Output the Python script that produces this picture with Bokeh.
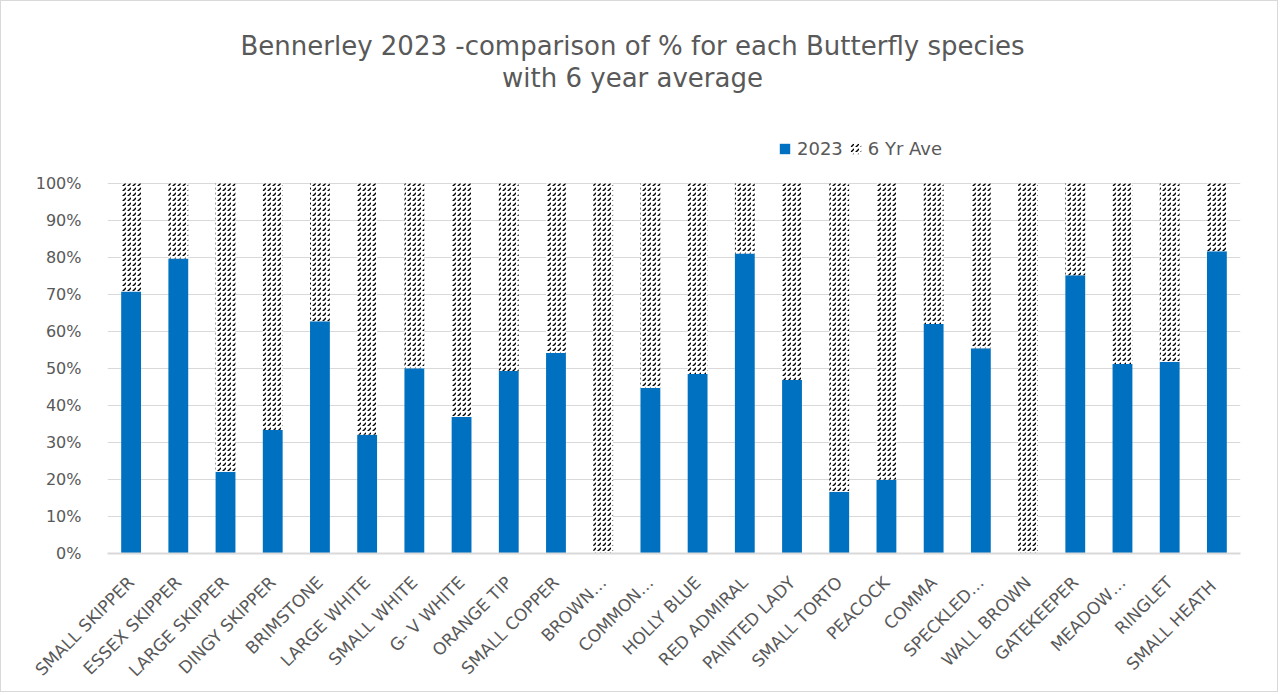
from bokeh.plotting import figure
from bokeh.models import ColumnDataSource, Legend, LegendItem, FixedTicker, Label
from bokeh.embed import file_html
from bokeh.resources import INLINE
import math

species = ["SMALL SKIPPER", "ESSEX SKIPPER", "LARGE SKIPPER", "DINGY SKIPPER",
           "BRIMSTONE", "LARGE WHITE", "SMALL WHITE", "G- V WHITE", "ORANGE TIP",
           "SMALL COPPER", "BROWN…", "COMMON…", "HOLLY BLUE", "RED ADMIRAL",
           "PAINTED LADY", "SMALL TORTO", "PEACOCK", "COMMA", "SPECKLED…",
           "WALL BROWN", "GATEKEEPER", "MEADOW…", "RINGLET", "SMALL  HEATH"]
pct_2023 = [70.8, 79.7, 22.1, 33.4, 62.8, 32.1, 50.1, 36.9, 49.3, 54.2, 0.0, 44.7,
            48.5, 81.1, 46.9, 16.7, 19.9, 62.0, 55.5, 0.0, 75.2, 51.2, 51.8, 81.7]
pct_6yr = [29.2, 20.3, 77.9, 66.6, 37.2, 67.9, 49.9, 63.1, 50.7, 45.8, 100.0, 55.3,
           51.5, 18.9, 53.1, 83.3, 80.1, 38.0, 44.5, 100.0, 24.8, 48.8, 48.2, 18.3]
y_ticks = [0, 10, 20, 30, 40, 50, 60, 70, 80, 90, 100]
y_tick_labels = {t: f"{t}%" for t in y_ticks}
title_lines = ["Bennerley 2023 -comparison of % for each Butterfly species",
               "with 6 year average"]

GREY = "#595959"
FONT = "DejaVu Sans"

# layout (pixels)
W, H = 1278, 692
LEFT, RIGHT, BOTTOM = 106, 39, 140
FRAME_H = H - BOTTOM          # frame spans whole top so title/legend sit inside
PLOT_H = 370                  # pixel height of the 0..100 % band
y_end = 100 * FRAME_H / PLOT_H

src = ColumnDataSource(dict(species=species, y2023=pct_2023, avg6=pct_6yr))

p = figure(x_range=species, y_range=(0, y_end), width=W, height=H,
           output_backend="svg", toolbar_location=None, title=None,
           min_border_left=LEFT, min_border_right=RIGHT, min_border_top=0,
           min_border_bottom=BOTTOM)
p.styles = {"border": "1px solid #d9d9d9"}

rs = p.vbar_stack(["y2023", "avg6"], x="species", width=0.42, source=src,
                  fill_color=["#0070C0", "white"], line_color=[None, None],
                  hatch_pattern=[" ", "right_diagonal_dash"],
                  hatch_color=["black", "black"], hatch_scale=[5, 5],
                  hatch_weight=[1.5, 1.5])

p.outline_line_color = None
p.xgrid.grid_line_color = None
p.ygrid.grid_line_color = "#d9d9d9"
p.ygrid.grid_line_width = 1

p.yaxis.ticker = FixedTicker(ticks=y_ticks)
p.yaxis.major_label_overrides = y_tick_labels
p.yaxis.axis_line_color = None
p.yaxis.major_tick_line_color = None
p.yaxis.minor_tick_line_color = None
p.yaxis.major_label_text_font = FONT
p.yaxis.major_label_text_font_size = "16px"
p.yaxis.major_label_text_color = GREY
p.yaxis.major_label_standoff = 20

p.xaxis.axis_line_color = "#d9d9d9"
p.xaxis.axis_line_width = 2
p.xaxis.major_tick_line_color = None
p.xaxis.major_label_orientation = math.pi / 4
p.xaxis.major_label_text_font = FONT
p.xaxis.major_label_text_font_size = "17px"
p.xaxis.major_label_text_color = GREY
p.xaxis.major_label_standoff = 20
p.x_range.range_padding = 0

legend = Legend(items=[LegendItem(label="2023", renderers=[rs[0]]),
                       LegendItem(label="6 Yr Ave", renderers=[rs[1]])],
                orientation="horizontal", location=(671, 394),
                border_line_color=None, background_fill_alpha=0,
                label_text_font=FONT, label_text_font_size="18px",
                label_text_color=GREY, glyph_width=13, glyph_height=13,
                spacing=6, label_standoff=6, padding=0, margin=0)
p.add_layout(legend, "center")

for txt, ys in zip(title_lines, (508, 476)):
    p.add_layout(Label(x=525, y=ys, x_units="screen", y_units="screen",
                       text=txt, text_align="center", text_baseline="middle",
                       text_font=FONT, text_font_size="26px",
                       text_color=GREY))

open("out.html", "w").write(file_html(p, INLINE))
